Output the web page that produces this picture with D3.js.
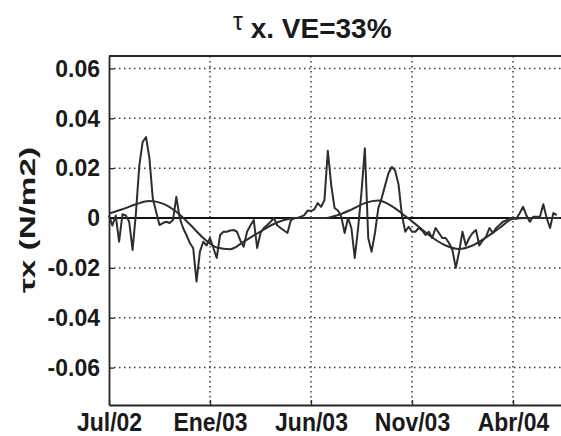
<!DOCTYPE html>
<html>
<head>
<meta charset="utf-8">
<script src="https://cdn.jsdelivr.net/npm/d3@7"></script>
<style>
  html, body { margin: 0; padding: 0; background: #fff; }
  svg { display: block; }
  text { font-family: "Liberation Sans", Arial, sans-serif; font-weight: bold; fill: #1a1a1a; }
</style>
</head>
<body>
<svg id="chart" width="561" height="436"></svg>
<script>
// Wind stress τx series (N/m2), sampled every 5 days from Jul/02
const tauX = [
  0.001, -0.003, 0.001, -0.0095, 0.0015, 0.001, -0.0015, -0.0128, 0.002, 0.021,
  0.0305, 0.0325, 0.024, 0.008, 0.0025, -0.0028, -0.002, -0.0015, -0.002, -0.0008,
  0.0085, 0.0, -0.004, -0.0068, -0.010, -0.012, -0.0255, -0.0135, -0.0095, -0.011,
  -0.008, -0.012, -0.016, -0.0068, -0.0055, -0.0055, -0.005, -0.0048, -0.0055, -0.009,
  -0.0115, -0.0055, -0.003, -0.0008, -0.012, -0.006, -0.004, -0.0028, -0.0015, 0.0,
  -0.003, -0.004, -0.005, -0.006, -0.001, 0.0, 0.0, 0.0005, 0.0012, 0.003,
  0.0028, 0.0035, 0.006, 0.0045, 0.0072, 0.027, 0.0133, 0.004, 0.003, 0.0005,
  -0.006, 0.0, -0.004, -0.016, -0.004, 0.0105, 0.028, -0.008, -0.0135, -0.006,
  0.004, 0.008, 0.013, 0.018, 0.0205, 0.019, 0.0135, 0.0012, -0.0055, -0.0035,
  -0.0055, -0.0055, -0.004, -0.005, -0.0068, -0.0055, -0.008, -0.004, -0.006, -0.008,
  -0.008, -0.010, -0.0128, -0.020, -0.0135, -0.0055, -0.011, -0.008, -0.006, -0.0048,
  -0.011, -0.009, -0.0075, -0.004, -0.006, -0.004, -0.0028, -0.0015, -0.001, 0.0,
  0.0, -0.0003, 0.002, 0.0045, 0.001, -0.0015, 0.0005, 0.0005, 0.0005, 0.0055,
  0.0, -0.004, 0.002, 0.0012
];

// Fitted seasonal cycle, given every 4 samples
const fitIndex = [0, 4, 8, 12, 16, 20, 24, 28, 32, 36, 40, 44, 48, 52, 56, 60, 64, 68,
  72, 76, 80, 84, 88, 92, 96, 100, 104, 108, 112, 116, 120, 124, 128, 132, 134];
const fitValues = [0.0018, 0.0035, 0.0055, 0.0068, 0.0058, 0.0025, -0.0025, -0.008,
  -0.0118, -0.0125, -0.0095, -0.0062, -0.003, -0.0008, 0.0, 0.0, 0.0, 0.0012,
  0.0034, 0.006, 0.007, 0.0048, 0.0008, -0.0035, -0.0078, -0.011, -0.0124, -0.011,
  -0.0078, -0.004, -0.0003, 0.0, 0.0, 0.0, 0.0];

// Axis ticks
const xTickIndex = [0, 30, 60, 90, 120];
const xTickLabels = ["Jul/02", "Ene/03", "Jun/03", "Nov/03", "Abr/04"];
const yTicks = [-0.06, -0.04, -0.02, 0, 0.02, 0.04, 0.06];
const yTickLabels = ["-0.06", "-0.04", "-0.02", "0", "0.02", "0.04", "0.06"];

const svg = d3.select("#chart");
const plotLeft = 109, plotTop = 56, plotBottom = 405, plotRight = 563.5;

const x = d3.scaleLinear().domain([0, 135]).range([plotLeft, plotRight]);
const y = d3.scaleLinear().domain([-0.075, 0.065]).range([plotBottom, plotTop]);

const ink = "#262626";

// Dotted grid
const grid = svg.append("g");
grid.selectAll("line.gx").data(xTickIndex.slice(1)).join("line")
  .attr("x1", d => x(d)).attr("x2", d => x(d))
  .attr("y1", plotTop).attr("y2", plotBottom)
  .attr("stroke", "#3a3a3a").attr("stroke-width", 1.5)
  .attr("stroke-dasharray", "1.5,3.5");
grid.selectAll("line.gy").data(yTicks.filter(d => d !== 0)).join("line")
  .attr("x1", plotLeft).attr("x2", plotRight)
  .attr("y1", d => y(d)).attr("y2", d => y(d))
  .attr("stroke", "#3a3a3a").attr("stroke-width", 1.5)
  .attr("stroke-dasharray", "1.5,3.5");

// Axes (ticks point inward)
const xAxis = d3.axisBottom(x).tickValues(xTickIndex)
  .tickFormat((d, i) => xTickLabels[i]).tickSizeInner(-5).tickSizeOuter(0).tickPadding(7);
const yAxis = d3.axisLeft(y).tickValues(yTicks)
  .tickFormat((d, i) => yTickLabels[i]).tickSizeInner(-5).tickSizeOuter(0).tickPadding(9);

const gx = svg.append("g").attr("transform", `translate(0,${plotBottom})`).call(xAxis);
const gy = svg.append("g").attr("transform", `translate(${plotLeft},0)`).call(yAxis);
[gx, gy].forEach(g => {
  g.select(".domain").attr("stroke", ink).attr("stroke-width", 1.8);
  g.selectAll(".tick line").attr("stroke", ink).attr("stroke-width", 1.3);
  g.selectAll(".tick text").attr("font-size", 23).attr("fill", "#1a1a1a")
    .attr("font-family", "Liberation Sans, Arial, sans-serif").attr("font-weight", "bold");
});
gx.selectAll(".tick text").attr("dy", "0.71em").attr("transform", "scale(1,1.12)");
gy.selectAll(".tick text").attr("transform", "scale(1,1.05)");

// Top frame
svg.append("line").attr("x1", plotLeft).attr("x2", plotRight).attr("y1", plotTop).attr("y2", plotTop)
  .attr("stroke", ink).attr("stroke-width", 1.8);

// Zero line
svg.append("line").attr("x1", plotLeft).attr("x2", plotRight).attr("y1", y(0)).attr("y2", y(0))
  .attr("stroke", "#111").attr("stroke-width", 2);

// Series
const line = d3.line().x((d, i) => x(i)).y(d => y(d));
svg.append("path").datum(tauX).attr("d", line)
  .attr("fill", "none").attr("stroke", "#2e2e2e").attr("stroke-width", 2)
  .attr("stroke-linejoin", "round");

const fit = d3.line().x((d, i) => x(fitIndex[i])).y(d => y(d)).curve(d3.curveMonotoneX);
svg.append("path").datum(fitValues).attr("d", fit)
  .attr("fill", "none").attr("stroke", "#2e2e2e").attr("stroke-width", 2);

// Title
const title = svg.append("text").attr("x", 233).attr("y", 38).attr("font-size", 28);
title.append("tspan").attr("font-size", 25).attr("font-weight", "normal").attr("dy", -8).text("τ");
title.append("tspan").attr("dy", 8).text(" x. VE=33%");

// Y axis label
svg.append("text")
  .attr("transform", "translate(35,220) rotate(-90)")
  .attr("text-anchor", "middle").attr("font-size", 22)
  .attr("textLength", 146).attr("lengthAdjust", "spacingAndGlyphs")
  .text("τx (N/m2)");
</script>
</body>
</html>
